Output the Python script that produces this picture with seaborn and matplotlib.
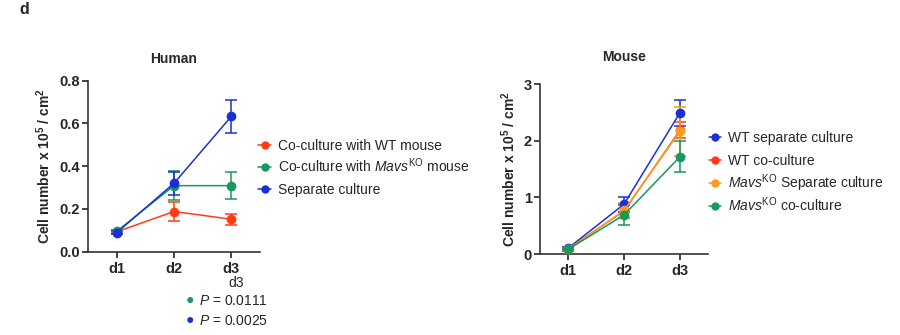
import numpy as np
import pandas as pd
import matplotlib
matplotlib.use("Agg")
import matplotlib.pyplot as plt
import seaborn as sns
from matplotlib.lines import Line2D

# ---------------- data ----------------
days = ["d1", "d2", "d3"]

human_series = ["Co-culture with WT mouse",
                r"Co-culture with $\mathit{Mavs}^{\mathrm{KO}}$ mouse",
                "Separate culture"]
human_wt_co = [0.093, 0.188, 0.152]
human_wt_co_err = [0.008, 0.044, 0.026]
human_ko_co = [0.095, 0.309, 0.309]
human_ko_co_err = [0.008, 0.069, 0.062]
human_sep = [0.089, 0.320, 0.633]
human_sep_err = [0.008, 0.055, 0.076]

mouse_series = ["WT separate culture", "WT co-culture",
                r"$\mathit{Mavs}^{\mathrm{KO}}$ Separate culture",
                r"$\mathit{Mavs}^{\mathrm{KO}}$ co-culture"]
mouse_wt_sep = [0.10, 0.88, 2.50]
mouse_wt_sep_err = [0.02, 0.13, 0.23]
mouse_wt_co = [0.09, 0.76, 2.19]
mouse_wt_co_err = [0.02, 0.12, 0.14]
mouse_ko_sep = [0.08, 0.77, 2.17]
mouse_ko_sep_err = [0.02, 0.14, 0.43]
mouse_ko_co = [0.08, 0.69, 1.72]
mouse_ko_co_err = [0.02, 0.18, 0.27]

p_labels = ["0.0111", "0.0025"]

# ---------------- style ----------------
sns.set_style("ticks")
plt.rcParams["font.family"] = ["Liberation Sans", "DejaVu Sans"]
plt.rcParams["mathtext.fontset"] = "custom"
plt.rcParams["mathtext.rm"] = "Liberation Sans"
plt.rcParams["mathtext.it"] = "Liberation Sans:italic"
plt.rcParams["mathtext.bf"] = "Liberation Sans:bold"
plt.rcParams["axes.edgecolor"] = "#333333"

RED = "#ff3b17"
GREEN = "#15995c"
BLUE = "#1a30d6"
ORANGE = "#ff9a1c"

W, H = 900, 335
fig = plt.figure(figsize=(9, 3.35), dpi=100)
ax_h = fig.add_axes([88/W, 1-251.7/H, (260-88)/W, (251.7-80.7)/H])
ax_m = fig.add_axes([540/W, 1-254/H, (708-540)/W, (254-84.3)/H])


def fx(px):
    return px / W


def fy(py):
    return 1 - py / H


def draw(ax, names, vals, errs, colors):
    rows = []
    for n, v in zip(names, vals):
        for i, d in enumerate(days):
            rows.append({"series": n, "x": i, "y": v[i]})
    df = pd.DataFrame(rows)
    for n, v, e, c in zip(names, vals, errs, colors):
        sub = df[df.series == n]
        ax.errorbar(sub.x, sub.y, yerr=e, fmt="none", ecolor=c, elinewidth=1.1,
                    capsize=4.5, capthick=1.1, zorder=2)
        sns.lineplot(data=sub, x="x", y="y", ax=ax, color=c, marker="o",
                     markersize=7, markeredgewidth=0, linewidth=1.1,
                     errorbar=None, legend=False, zorder=3)
    ax.set_xlim(-0.5, 2.5)
    ax.set_xticks(range(len(days)))
    ax.set_xticklabels(days, fontweight="bold", fontsize=10.5)
    ax.set_xlabel("")
    ax.set_ylabel(r"Cell number x 10$^{\mathbf{5}}$ / cm$^{\mathbf{2}}$",
                  fontweight="bold", fontsize=10, labelpad=4)
    sns.despine(ax=ax)
    for s in ["left", "bottom"]:
        ax.spines[s].set_linewidth(1.2)
    ax.tick_params(axis="both", width=1.2, length=4.5, labelsize=10.5)
    ax.tick_params(axis="y", pad=1.5)
    ax.tick_params(axis="x", pad=3)


def manual_legend(names, colors, x_line0, x_line1, x_text, ys):
    for n, c, y in zip(names, colors, ys):
        xm = (x_line0 + x_line1) / 2
        fig.add_artist(Line2D([fx(x_line0), fx(xm), fx(x_line1)], [fy(y)] * 3,
                              transform=fig.transFigure, color=c, linewidth=1.1,
                              marker="o", markevery=[1], markersize=6,
                              markeredgewidth=0))
        fig.text(fx(x_text), fy(y + 5), n, fontsize=10, ha="left", va="baseline")


draw(ax_h, human_series, [human_wt_co, human_ko_co, human_sep],
     [human_wt_co_err, human_ko_co_err, human_sep_err], [RED, GREEN, BLUE])
ax_h.set_ylim(0, 0.8)
ax_h.set_yticks([0.0, 0.2, 0.4, 0.6, 0.8])
ax_h.set_yticklabels(["0.0", "0.2", "0.4", "0.6", "0.8"], fontweight="bold", fontsize=10.5)
ax_h.set_title("Human", fontweight="bold", fontsize=10, pad=13)
manual_legend(human_series, [RED, GREEN, BLUE], 258, 271, 278, [145, 167, 189])

draw(ax_m, mouse_series, [mouse_wt_sep, mouse_wt_co, mouse_ko_sep, mouse_ko_co],
     [mouse_wt_sep_err, mouse_wt_co_err, mouse_ko_sep_err, mouse_ko_co_err],
     [BLUE, RED, ORANGE, GREEN])
ax_m.set_ylim(0, 3)
ax_m.set_yticks([0, 1, 2, 3])
ax_m.set_yticklabels(["0", "1", "2", "3"], fontweight="bold", fontsize=10.5)
ax_m.set_title("Mouse", fontweight="bold", fontsize=10, pad=17)
manual_legend(mouse_series, [BLUE, RED, ORANGE, GREEN], 709, 721, 728,
              [137, 160, 183, 206])

# panel letter
fig.text(fx(19), fy(9), "d", fontweight="bold", fontsize=11.5, va="center", ha="left")

# significance note
fig.text(fx(236), fy(283), "d3", fontsize=10, ha="center", va="center")
for i, (p, c) in enumerate(zip(p_labels, [GREEN, BLUE])):
    y = 300 + 20 * i
    fig.text(fx(190), fy(y), "\u25cf", color=c, fontsize=10, ha="center", va="center",
             family=["Liberation Sans", "DejaVu Sans"])
    fig.text(fx(199), fy(y + 5), r"$\mathit{P}$ = " + p, fontsize=10, ha="left",
             va="baseline")

fig.savefig("out.png", dpi=100)
